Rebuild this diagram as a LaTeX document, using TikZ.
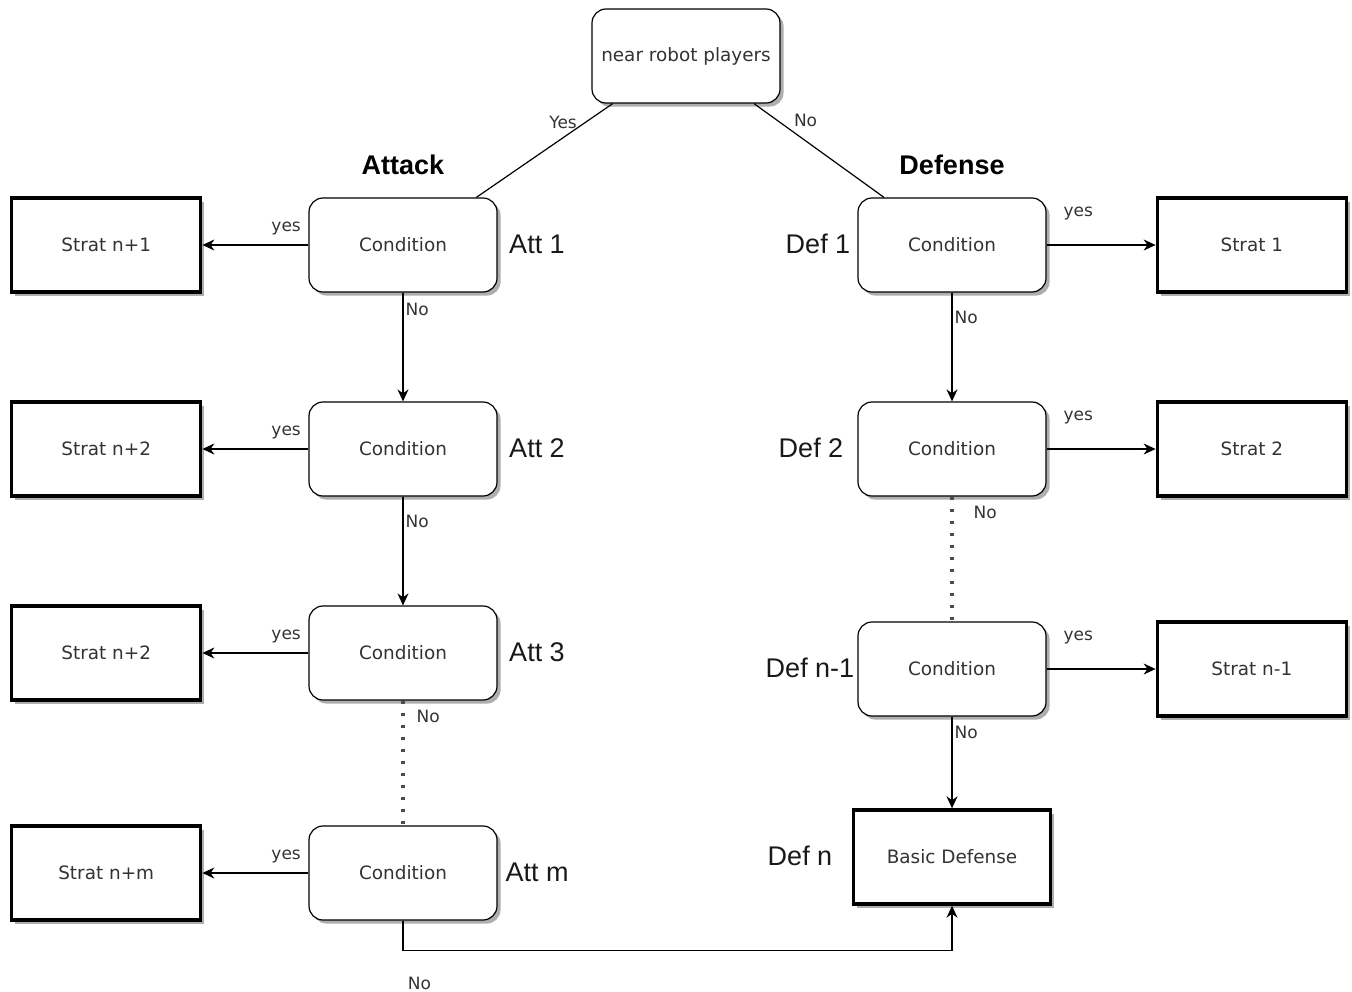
\documentclass[tikz,border=0pt]{standalone}
\usepackage{fontspec}
\setmainfont{DejaVu Sans}
\newfontfamily\tagfont{Liberation Sans}
\usetikzlibrary{arrows.meta,positioning,shadows}

\begin{document}
\begin{tikzpicture}[x=0.5pt,y=-0.5pt,->,>={Stealth[length=6pt,width=5.5pt]},line width=0.6pt,node distance=54.5pt,
  every node/.style={text=black!80},
  shadowed/.style={drop shadow={shadow xshift=1.8pt,shadow yshift=-1.8pt,fill=black!45,opacity=.7}},
  cond/.style={draw,shadowed,fill=white,rounded corners=7pt,minimum width=94pt,minimum height=47pt,font=\fontsize{9.2}{11}\selectfont},
  strat/.style={draw,shadowed,fill=white,line width=1.7pt,minimum width=94.5pt,minimum height=47pt,font=\fontsize{9.2}{11}\selectfont},
  lbl/.style={font=\fontsize{8.5}{10}\selectfont,inner sep=1pt},
  tag/.style={font=\tagfont\fontsize{13.5}{16}\selectfont,text=black!90},
  head/.style={font=\tagfont\bfseries\fontsize{13.5}{16}\selectfont,text=black},
  dots/.style={-,line width=1.7pt,dash pattern=on 1.7pt off 4.3pt,draw=black!70}]
  \useasboundingbox (0,0) rectangle (1352,991);

  % root
  \node[cond]  (top)   at (686,56)  {near robot players};
  \node[head]  (attack) at (403,165) {Attack};
  \node[head]  (defense) at (952,165) {Defense};

  % attack side
  \node[cond]  (att1)  at (403,245) {Condition};
  \node[cond]  (att2)  at (403,449) {Condition};
  \node[cond]  (att3)  at (403,653) {Condition};
  \node[cond]  (attm)  at (403,873) {Condition};
  \node[strat] (sn1) [left=53pt of att1] {Strat n+1};
  \node[strat] (sn2) [left=53pt of att2] {Strat n+2};
  \node[strat] (sn3) [left=53pt of att3] {Strat n+2};
  \node[strat] (snm) [left=53pt of attm] {Strat n+m};
  \node[tag]   at (537,244) {Att 1};
  \node[tag]   at (537,448) {Att 2};
  \node[tag]   at (537,652) {Att 3};
  \node[tag]   at (537,872) {Att m};

  % defense side
  \node[cond]  (def1)  at (952,245) {Condition};
  \node[cond]  (def2)  at (952,449) {Condition};
  \node[cond]  (defn1) at (952,669) {Condition};
  \node[strat,minimum width=98.5pt] (basic) at (952,857) {Basic Defense};
  \node[strat] (s1)  [right=of def1]  {Strat 1};
  \node[strat] (s2)  [right=of def2]  {Strat 2};
  \node[strat] (sn)  [right=of defn1] {Strat n-1};
  \node[tag]   at (818,244) {Def 1};
  \node[tag]   at (811,448) {Def 2};
  \node[tag]   at (810,668) {Def n-1};
  \node[tag]   at (800,856) {Def n};

  \path[-] (top.213) edge node[lbl,left=3pt,pos=.2] {Yes} (att1.33)
           (top.325) edge node[lbl,right=7pt,pos=.18] {No} (def1.145);

  \path (att1) edge node[lbl,above=3.5pt,pos=.21] {yes} (sn1)
        (att2) edge node[lbl,above=3.5pt,pos=.21] {yes} (sn2)
        (att3) edge node[lbl,above=3.5pt,pos=.21] {yes} (sn3)
        (attm) edge node[lbl,above=3.5pt,pos=.21] {yes} (snm)
        (att1) edge node[lbl,right,pos=.15] {No} (att2)
        (att2) edge node[lbl,right,pos=.23] {No} (att3)
        (att3) edge[dots] node[lbl,right=5pt,pos=.13] {No} (attm);

  \path (def1) edge node[lbl,above=11pt,pos=.29] {yes} (s1)
        (def2) edge node[lbl,above=11pt,pos=.29] {yes} (s2)
        (defn1) edge node[lbl,above=11pt,pos=.29] {yes} (sn)
        (def1) edge node[lbl,right,pos=.23] {No} (def2)
        (def2) edge[dots] node[lbl,right=9pt,pos=.13] {No} (defn1)
        (defn1) edge node[lbl,right,pos=.17] {No} (basic);

  \draw (attm.south) -- ++(0,30) -| node[lbl,below=12pt,pos=.015] {No} (basic.south);
\end{tikzpicture}
\end{document}
